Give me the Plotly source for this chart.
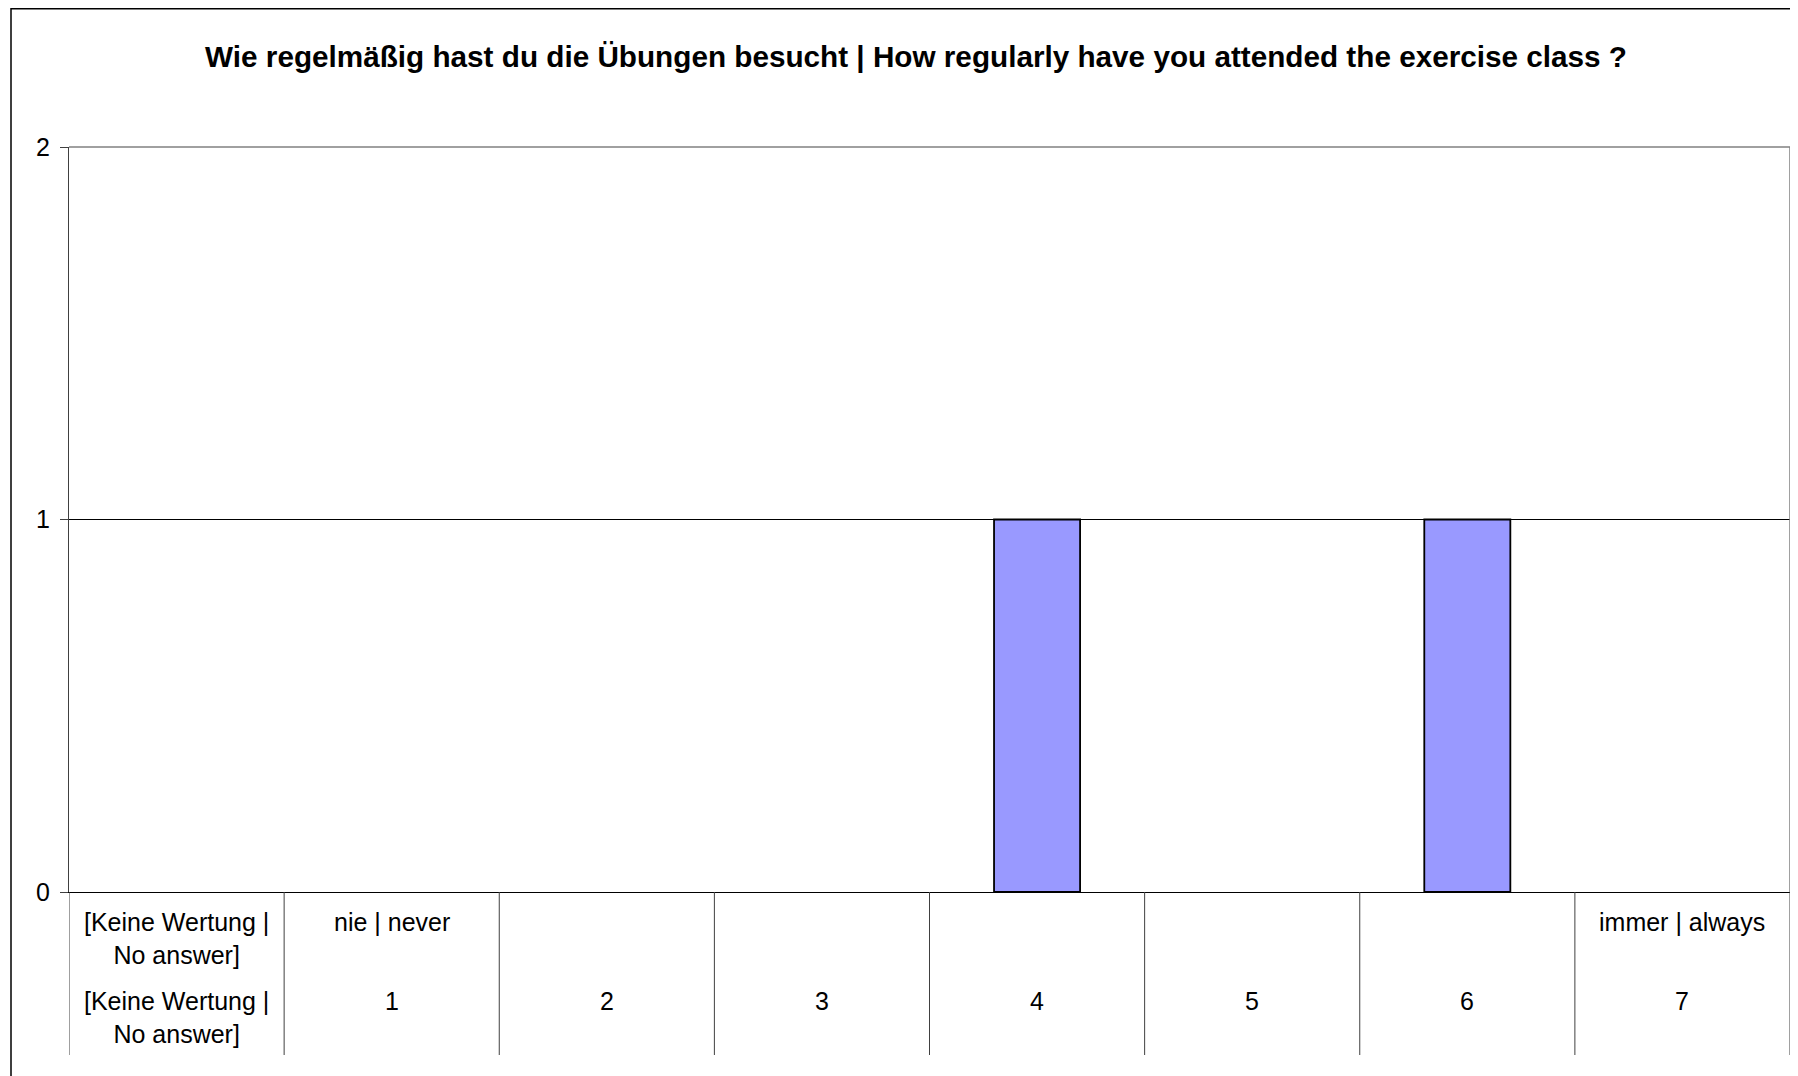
import plotly.graph_objects as go

title_text = "Wie regelmäßig hast du die Übungen besucht | How regularly have you attended the exercise class ?"
labels_top = ["[Keine Wertung |<br>No answer]", "nie | never", "", "", "", "", "", "immer | always"]
labels_bottom = ["[Keine Wertung |<br>No answer]", "1", "2", "3", "4", "5", "6", "7"]
counts = [0, 0, 0, 0, 1, 0, 1, 0]
y_ticks = [0, 1, 2]

# figure is placed at an 8px offset by the page body margin
W, H = 1790, 1068
L, R, T, B = 61, 8, 139, 184
pw = W - L - R
ph = H - T - B

def px_to_paper_x(px):
    return (px - L) / pw

def px_to_paper_y(py):
    return (H - B - py) / ph

FONT = "Liberation Sans, Arial, sans-serif"

fig = go.Figure()
fig.add_trace(go.Bar(
    x=list(range(len(counts))), y=counts,
    marker=dict(color="#9999FF",
                line=dict(color="#000000", width=[1.8 if v > 0 else 0 for v in counts])),
    hoverinfo="y",
))

shapes = []
n = len(counts)
# category divider lines
for i in range(n + 1):
    shapes.append(dict(type="line", xref="x", yref="paper",
                       x0=i - 0.5, x1=i - 0.5, y0=0, y1=px_to_paper_y(1047),
                       line=dict(color="#404040", width=1)))
# top and right border (gray)
shapes.append(dict(type="line", xref="paper", yref="paper", x0=0, x1=1, y0=1, y1=1,
                   line=dict(color="#808080", width=1.5), layer="above"))
shapes.append(dict(type="line", xref="paper", yref="paper", x0=1, x1=1, y0=0, y1=1,
                   line=dict(color="#808080", width=1.5), layer="above"))
# outer chart border
shapes.append(dict(type="rect", xref="paper", yref="paper",
                   x0=px_to_paper_x(3), x1=px_to_paper_x(1800),
                   y0=px_to_paper_y(1080), y1=px_to_paper_y(0.8),
                   line=dict(color="#000000", width=1.5), fillcolor="rgba(0,0,0,0)"))

LINE_H = 33
annotations = []
for i in range(n):
    if labels_top[i]:
        extra = LINE_H / 2 if "<br>" in labels_top[i] else 0
        annotations.append(dict(xref="x", yref="paper", x=i, y=px_to_paper_y(914 + extra),
                                text=labels_top[i], showarrow=False,
                                font=dict(family=FONT, size=25, color="#000000"),
                                xanchor="center", yanchor="middle"))
    extra = LINE_H / 2 if "<br>" in labels_bottom[i] else 0
    annotations.append(dict(xref="x", yref="paper", x=i, y=px_to_paper_y(993 + extra),
                            text=labels_bottom[i], showarrow=False,
                            font=dict(family=FONT, size=25, color="#000000"),
                            xanchor="center", yanchor="middle"))

fig.update_layout(
    width=W, height=H,
    margin=dict(l=L, r=R, t=T, b=B),
    paper_bgcolor="white", plot_bgcolor="white",
    bargap=0.6,
    showlegend=False,
    title=dict(text="<b>" + title_text + "</b>", x=px_to_paper_x(908), xref="paper",
               xanchor="center", y=1 - 49 / H, yanchor="middle",
               font=dict(family=FONT, size=29.7, color="#000000")),
    xaxis=dict(range=[-0.5, n - 0.5], showticklabels=False, showgrid=False,
               zeroline=False, showline=True, linecolor="#000000", linewidth=1,
               ticks=""),
    yaxis=dict(range=[0, 2], tickvals=y_ticks, ticktext=[str(v) for v in y_ticks],
               showgrid=True, gridcolor="#000000", gridwidth=1, zeroline=False,
               showline=True, linecolor="#404040", linewidth=1,
               ticks="outside", ticklen=8, tickcolor="#404040",
               ticklabelstandoff=5,
               tickfont=dict(family=FONT, size=25, color="#000000")),
    shapes=shapes,
    annotations=annotations,
)

fig.write_html("out.html")
